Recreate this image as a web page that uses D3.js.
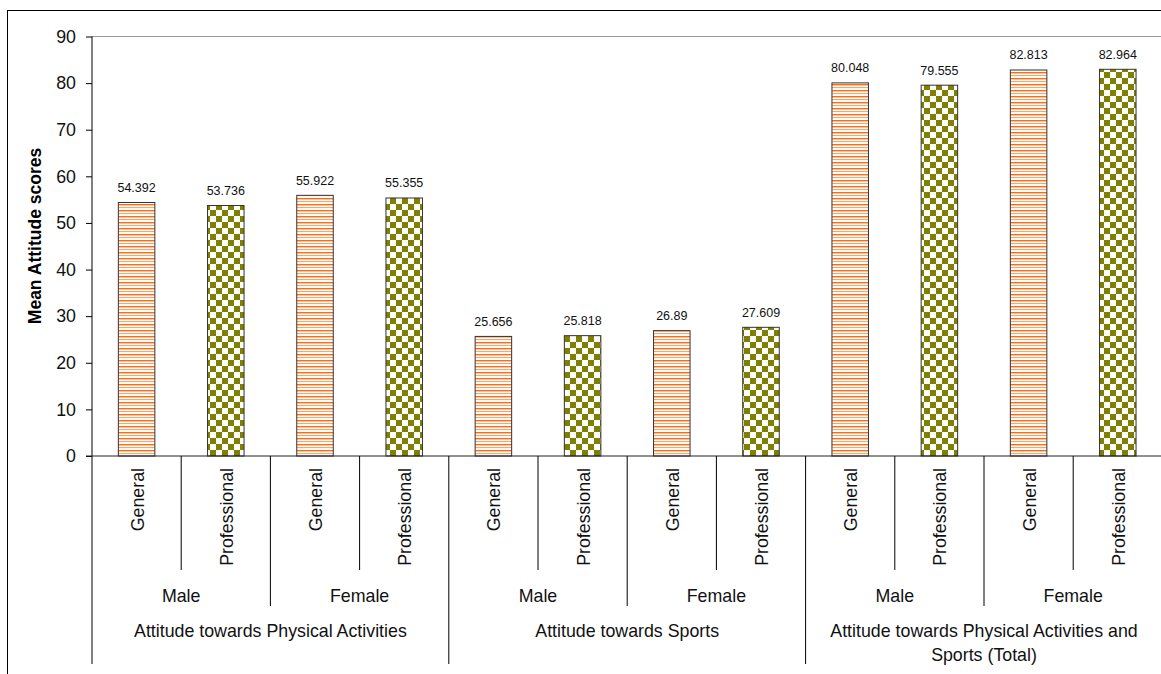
<!DOCTYPE html>
<html>
<head>
<meta charset="utf-8">
<script src="https://cdn.jsdelivr.net/npm/d3@7"></script>
<style>
  body { margin: 0; background: #fff; }
  svg { display: block; font-family: "Liberation Sans", Arial, sans-serif; }
</style>
</head>
<body>
<svg width="1161" height="674"></svg>
<script>
// chart data
var groups = ["Attitude towards Physical Activities", "Attitude towards Sports", "Attitude towards Physical Activities and Sports (Total)"];
var genders = ["Male", "Female"];
var types = ["General", "Professional"];
var values = [54.392, 53.736, 55.922, 55.355, 25.656, 25.818, 26.89, 27.609, 80.048, 79.555, 82.813, 82.964];
var valueLabels = ["54.392", "53.736", "55.922", "55.355", "25.656", "25.818", "26.89", "27.609", "80.048", "79.555", "82.813", "82.964"];
var yTicks = [0, 10, 20, 30, 40, 50, 60, 70, 80, 90];

var svg = d3.select("svg");

// one row per bar
var rows = [];
groups.forEach(function(g, gi) {
  genders.forEach(function(s, si) {
    types.forEach(function(t, ti) {
      var i = gi * 4 + si * 2 + ti;
      rows.push({ key: i, group: g, gender: s, type: t, value: values[i], label: valueLabels[i] });
    });
  });
});

var plotLeft = 92, catW = 89.2, plotTop = 36.5, plotBottom = 456;
var x = d3.scaleBand()
  .domain(rows.map(function(d) { return d.key; }))
  .range([plotLeft, plotLeft + catW * rows.length])
  .padding(0);

var y = d3.scaleLinear()
  .domain([0, 90])
  .range([plotBottom, plotTop]);

var barW = 36.5;
var labelSize = "17.8px";

// fill patterns
var defs = svg.append("defs");
var stripe = defs.append("pattern")
  .attr("id", "stripe")
  .attr("patternUnits", "userSpaceOnUse")
  .attr("width", 6).attr("height", 6);
stripe.append("rect").attr("width", 6).attr("height", 6).attr("fill", "#fff");
stripe.append("rect").attr("y", 0).attr("width", 6).attr("height", 1.4).attr("fill", "#ff6a14");
stripe.append("rect").attr("y", 3).attr("width", 6).attr("height", 1.1).attr("fill", "#ffa463");

var check = defs.append("pattern")
  .attr("id", "check")
  .attr("patternUnits", "userSpaceOnUse")
  .attr("width", 12).attr("height", 12);
check.append("rect").attr("width", 12).attr("height", 12).attr("fill", "#fff");
check.append("rect").attr("width", 6).attr("height", 6).attr("fill", "#808000");
check.append("rect").attr("x", 6).attr("y", 6).attr("width", 6).attr("height", 6).attr("fill", "#808000");

// outer border (runs off the picture on right and bottom)
svg.append("rect")
  .attr("x", 7.5).attr("y", 10.5)
  .attr("width", 1400).attr("height", 900)
  .attr("fill", "none")
  .attr("stroke", "#000");

// plot area top border
svg.append("line")
  .attr("x1", plotLeft).attr("x2", 1400)
  .attr("y1", y(90)).attr("y2", y(90))
  .attr("stroke", "#9a9a9a");

// bars
svg.append("g").selectAll("rect")
  .data(rows)
  .enter().append("rect")
  .attr("x", function(d) { return x(d.key) + (x.bandwidth() - barW) / 2; })
  .attr("y", function(d) { return y(d.value); })
  .attr("width", barW)
  .attr("height", function(d) { return y(0) - y(d.value); })
  .attr("fill", function(d) { return d.type == "General" ? "url(#stripe)" : "url(#check)"; })
  .attr("stroke", "#333")
  .attr("stroke-width", 1);

// value labels
svg.append("g").selectAll("text")
  .data(rows)
  .enter().append("text")
  .attr("x", function(d) { return x(d.key) + x.bandwidth() / 2; })
  .attr("y", function(d) { return y(d.value) - 10.5; })
  .attr("text-anchor", "middle")
  .attr("font-size", "12.5px")
  .attr("fill", "#111")
  .text(function(d) { return d.label; });

// y axis
var yAxis = svg.append("g")
  .attr("transform", "translate(" + plotLeft + ",0)")
  .call(d3.axisLeft(y).tickValues(yTicks).tickSize(6).tickPadding(10).tickFormat(d3.format("d")));
yAxis.select(".domain").remove();
yAxis.selectAll(".tick line").attr("stroke", "#000");
yAxis.selectAll(".tick text")
  .attr("font-family", "Liberation Sans, Arial, sans-serif")
  .attr("font-size", labelSize)
  .attr("fill", "#111");

svg.append("line")
  .attr("x1", plotLeft).attr("x2", plotLeft)
  .attr("y1", plotTop).attr("y2", 664)
  .attr("stroke", "#000");

// zero line
svg.append("line")
  .attr("x1", plotLeft - 6).attr("x2", 1400)
  .attr("y1", y(0)).attr("y2", y(0))
  .attr("stroke", "#222");

// category separators: deeper for bigger groups
var seps = d3.range(1, rows.length);
svg.append("g").selectAll("line")
  .data(seps)
  .enter().append("line")
  .attr("x1", function(k) { return plotLeft + k * x.bandwidth(); })
  .attr("x2", function(k) { return plotLeft + k * x.bandwidth(); })
  .attr("y1", y(0))
  .attr("y2", function(k) { return k % 4 == 0 ? 664 : (k % 2 == 0 ? 606 : 570); })
  .attr("stroke", "#000");

// level 1 labels (rotated)
svg.append("g").selectAll("text")
  .data(rows)
  .enter().append("text")
  .attr("transform", function(d) {
    return "translate(" + (x(d.key) + x.bandwidth() / 2 + 7) + ",468) rotate(-90)";
  })
  .attr("text-anchor", "end")
  .attr("font-size", labelSize)
  .attr("fill", "#111")
  .text(function(d) { return d.type; });

// level 2 labels
var genderRows = [];
groups.forEach(function(g, gi) {
  genders.forEach(function(s, si) { genderRows.push({ name: s, idx: gi * 2 + si }); });
});
svg.append("g").selectAll("text")
  .data(genderRows)
  .enter().append("text")
  .attr("x", function(d) { return plotLeft + (d.idx * 2 + 1) * x.bandwidth(); })
  .attr("y", 602)
  .attr("text-anchor", "middle")
  .attr("font-size", labelSize)
  .attr("fill", "#111")
  .text(function(d) { return d.name; });

// level 3 labels, wrapped when too long
var groupText = svg.append("g").selectAll("text")
  .data(groups)
  .enter().append("text")
  .attr("x", function(d, i) { return plotLeft + (i * 4 + 2) * x.bandwidth(); })
  .attr("y", 637)
  .attr("text-anchor", "middle")
  .attr("font-size", labelSize)
  .attr("fill", "#111");

groupText.each(function(d) {
  var el = d3.select(this);
  var words = d.split(" ");
  var cx = el.attr("x");
  var line = [];
  var tspan = el.append("tspan").attr("x", cx).attr("dy", 0);
  words.forEach(function(w) {
    line.push(w);
    tspan.text(line.join(" "));
    if (tspan.node().getComputedTextLength() > 330 && line.length > 1) {
      line.pop();
      tspan.text(line.join(" "));
      line = [w];
      tspan = el.append("tspan").attr("x", cx).attr("dy", 24).text(w);
    }
  });
});

// y axis title
svg.append("text")
  .attr("transform", "translate(41,236) rotate(-90)")
  .attr("text-anchor", "middle")
  .attr("font-size", "17.5px")
  .attr("font-weight", "bold")
  .attr("fill", "#000")
  .text("Mean Attitude scores");
</script>
</body>
</html>
